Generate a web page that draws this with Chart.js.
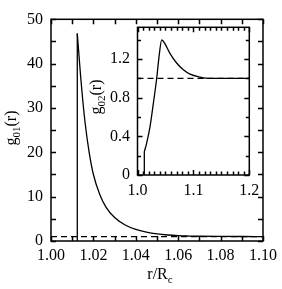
<!DOCTYPE html>
<html lang="en">
<head>
    <meta charset="UTF-8">
    <title>g01(r) and g02(r)</title>
    <script src="https://cdn.jsdelivr.net/npm/chart.js"></script>
    <style>
        body { margin: 0; background: #fff; }
        #wrap { position: relative; width: 282px; height: 289px; }
        #mainChart { position: absolute; left: 0; top: 0; }
        #insetChart { position: absolute; left: 85px; top: 5px; }
    </style>
</head>
<body>
<div id="wrap">
    <canvas id="mainChart" width="282" height="289"></canvas>
    <canvas id="insetChart" width="185" height="205"></canvas>
</div>
<script>
// main panel, g01(r) vs r/Rc (first two points = contact line)
const r01 = [1.0124, 1.0124, 1.014, 1.016, 1.018, 1.020, 1.023, 1.026, 1.030, 1.035, 1.040, 1.045, 1.050, 1.055, 1.060, 1.065, 1.070, 1.080, 1.090, 1.100];
const g01 = [0, 46.8, 37, 27, 20, 15, 10.5, 7.6, 5.3, 3.6, 2.6, 2.0, 1.6, 1.35, 1.2, 1.12, 1.07, 1.03, 1.01, 1.0];
const xTicks01 = [1.00, 1.02, 1.04, 1.06, 1.08, 1.10];
const yTicks01 = [0, 10, 20, 30, 40, 50];

// inset, g02(r)
const r02 = [1.0122, 1.0122, 1.0164, 1.0224, 1.0283, 1.0343, 1.039, 1.0433, 1.049, 1.058, 1.070, 1.082, 1.094, 1.112, 1.130, 1.160, 1.200];
const g02 = [0, 0.24, 0.33, 0.50, 0.74, 1.0, 1.25, 1.40, 1.36, 1.26, 1.16, 1.09, 1.045, 1.015, 1.0, 1.0, 1.0];
const xTicks02 = [1.0, 1.1, 1.2];
const yTicks02 = [0, 0.4, 0.8, 1.2];

const FONT = 'Liberation Serif, Times New Roman, serif';

function pts(xs, ys, from, to) {
    const out = [];
    for (let i = from; i < to; i++) out.push({ x: xs[i], y: ys[i] });
    return out;
}

// box + inward ticks on all four sides, plus axis titles with subscripts
const framePlugin = {
    id: 'frame',
    afterDraw(chart, args, o) {
        const { ctx, chartArea: a, scales: { x, y } } = chart;
        ctx.save();
        ctx.setLineDash([]);
        ctx.strokeStyle = '#000';
        ctx.lineWidth = 1.5;
        ctx.strokeRect(a.left, a.top, a.right - a.left, a.bottom - a.top);

        const nx = Math.round((x.max - x.min) / o.xMinor);
        ctx.beginPath();
        for (let i = 0; i <= nx; i++) {
            const v = x.min + i * o.xMinor;
            const k = v / o.xMajor;
            const len = Math.abs(k - Math.round(k)) < 1e-6 ? o.major : o.minor;
            const px = Math.round(x.getPixelForValue(v)) + 0.5;
            ctx.moveTo(px, a.bottom); ctx.lineTo(px, a.bottom - len);
            ctx.moveTo(px, a.top); ctx.lineTo(px, a.top + len);
        }
        ctx.stroke();

        const ny = Math.round((y.max - y.min) / o.yMinor);
        ctx.beginPath();
        for (let i = 0; i <= ny; i++) {
            const v = y.min + i * o.yMinor;
            if (v > y.max + 1e-9) break;
            const k = v / o.yMajor;
            const len = Math.abs(k - Math.round(k)) < 1e-6 ? o.major : o.minor;
            const py = Math.round(y.getPixelForValue(v)) + 0.5;
            ctx.moveTo(a.left, py); ctx.lineTo(a.left + len, py);
            ctx.moveTo(a.right, py); ctx.lineTo(a.right - len, py);
        }
        ctx.stroke();

        ctx.fillStyle = '#000';
        ctx.textBaseline = 'middle';
        const big = '16px ' + FONT, small = '11px ' + FONT;
        function subText(parts, cx, cy, rot) {
            ctx.save();
            ctx.translate(cx, cy);
            if (rot) ctx.rotate(-Math.PI / 2);
            let w = 0;
            parts.forEach(p => { ctx.font = p[1] ? small : big; w += ctx.measureText(p[0]).width; });
            let xx = -w / 2;
            ctx.textAlign = 'left';
            parts.forEach(p => {
                ctx.font = p[1] ? small : big;
                ctx.fillText(p[0], xx, p[1] ? 5 : 0);
                xx += ctx.measureText(p[0]).width;
            });
            ctx.restore();
        }
        if (o.yTitle) subText(o.yTitle, o.yTitlePos[0], o.yTitlePos[1], true);
        if (o.xTitle) subText(o.xTitle, o.xTitlePos[0], o.xTitlePos[1], false);
        ctx.restore();
    }
};

function makeChart(id, cfg) {
    const line = { borderColor: '#000', borderWidth: 1.3, pointRadius: 0, fill: false };
    return new Chart(document.getElementById(id), {
        type: 'line',
        data: {
            datasets: [
                Object.assign({ data: pts(cfg.xs, cfg.ys, 0, 2), tension: 0 }, line),
                Object.assign({ data: pts(cfg.xs, cfg.ys, 1, cfg.xs.length), cubicInterpolationMode: 'monotone' }, line),
                Object.assign({}, line, { data: [{ x: cfg.xMin, y: 1 }, { x: cfg.xMax, y: 1 }], borderWidth: 1.2, borderDash: [6, 4] })
            ]
        },
        options: {
            responsive: false,
            animation: false,
            events: [],
            layout: { autoPadding: false, padding: cfg.padding },
            plugins: {
                legend: { display: false },
                tooltip: { enabled: false },
                frame: cfg.frame
            },
            scales: {
                x: {
                    type: 'linear', min: cfg.xMin, max: cfg.xMax,
                    afterBuildTicks: s => { s.ticks = cfg.xTicks.map(v => ({ value: v })); },
                    afterFit: s => { s.height = cfg.xHeight; },
                    ticks: { font: { family: FONT, size: 16 }, color: '#000', padding: cfg.xPad, maxRotation: 0, autoSkip: false, callback: v => v.toFixed(cfg.xDec) },
                    grid: { display: false, drawTicks: false },
                    border: { display: false }
                },
                y: {
                    type: 'linear', min: cfg.yMin, max: cfg.yMax,
                    afterBuildTicks: s => { s.ticks = cfg.yTicks.map(v => ({ value: v })); },
                    afterFit: s => { s.width = cfg.yWidth; },
                    ticks: { font: { family: FONT, size: 16 }, color: '#000', padding: cfg.yPad, autoSkip: false, callback: v => v === 0 ? '0' : String(v) },
                    grid: { display: false, drawTicks: false },
                    border: { display: false }
                }
            }
        },
        plugins: [framePlugin]
    });
}

makeChart('mainChart', {
    xs: r01, ys: g01, xTicks: xTicks01, yTicks: yTicks01,
    xMin: 1.0, xMax: 1.1, yMin: 0, yMax: 50, xDec: 2,
    padding: { left: 0, top: 19.3, right: 16.3, bottom: 0 },
    xHeight: 48, yWidth: 51, xPad: 5, yPad: 8,
    frame: {
        xMinor: 0.01, xMajor: 0.02, yMinor: 5, yMajor: 10, major: 5, minor: 5,
        yTitle: [['g', 0], ['01', 1], ['(r)', 0]], yTitlePos: [12, 128],
        xTitle: [['r/R', 0], ['c', 1]], xTitlePos: [160, 275]
    }
});

// inset canvas: chart area at page x 137.5-249.3, y 27.3-175
makeChart('insetChart', {
    xs: r02, ys: g02, xTicks: xTicks02, yTicks: yTicks02,
    xMin: 1.0, xMax: 1.2, yMin: 0, yMax: 1.53, xDec: 1,
    padding: { left: 0, top: 22.3, right: 20.7, bottom: 0 },
    xHeight: 35, yWidth: 52.5, xPad: 6, yPad: 7.5,
    frame: {
        xMinor: 0.01, xMajor: 0.1, yMinor: 0.2, yMajor: 0.4, major: 5, minor: 3.5,
        yTitle: [['g', 0], ['02', 1], ['(r)', 0]], yTitlePos: [12, 92]
    }
});
</script>
</body>
</html>
